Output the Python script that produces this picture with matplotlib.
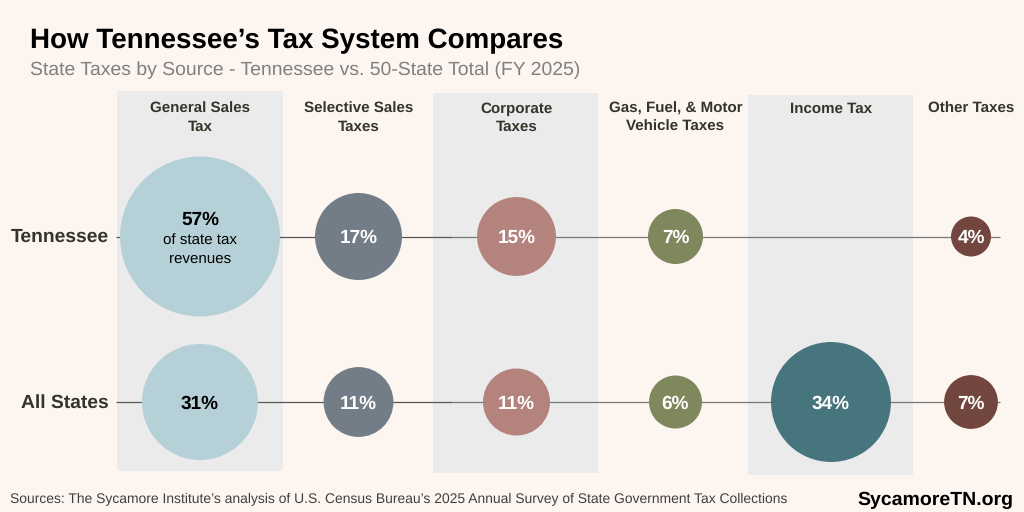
#!/usr/bin/env python3
import matplotlib
matplotlib.use("Agg")
import matplotlib.pyplot as plt
import numpy as np

categories = ["General Sales\nTax", "Selective Sales\nTaxes", "Corporate\nTaxes",
              "Gas, Fuel, & Motor\nVehicle Taxes", "Income Tax", "Other Taxes"]
row_names = ["Tennessee", "All States"]

# printed labels
tn_values = [57, 17, 15, 7, 0, 4]
all_values = [31, 11, 11, 6, 34, 7]
# bubble areas, they do not follow the rounded labels exactly
tn_areas = [59.2, 17.5, 14.4, 7.0, 0, 3.7]
all_areas = [31.1, 11.3, 10.4, 6.5, 33.3, 6.7]

colors = ["#B5D0D6", "#737D87", "#B5837E", "#7F875C", "#47757E", "#72463F"]
label_colors = ["black", "white", "white", "white", "white", "white"]

# layout, in pixels of the 1024x512 picture
col_x = [200, 358.5, 516.5, 675.5, 831, 971]
row_y = [236.5, 402]
bands = [(117, 283, 91, 471), (433, 598, 93, 473), (748, 913, 95, 475)]
size_per_pct = 224

plt.rcParams["font.family"] = ["Liberation Sans", "DejaVu Sans"]
plt.rcParams["text.hinting"] = "no_hinting"
BG = "#FDF5F0"
DARK = "#33352A"

fig = plt.figure(figsize=(10.24, 5.12), dpi=100, facecolor=BG)
ax = fig.add_axes([0, 0, 1, 1])
ax.set_xlim(0, 1024)
ax.set_ylim(512, 0)
ax.axis("off")

for x0, x1, y0, y1 in bands:
    ax.fill_between([x0, x1], y0, y1, color="#EBEBEB", lw=0, zorder=1)

for y in row_y:
    ax.plot([115.5, 452], [y, y], color="#555555", lw=0.9, zorder=2, solid_capstyle="butt")
    ax.plot([452, 1000], [y, y], color="#777777", lw=0.9, zorder=2, solid_capstyle="butt")

for y, areas in zip(row_y, [tn_areas, all_areas]):
    ax.scatter(col_x, [y] * len(col_x), s=np.array(areas) * size_per_pct, c=colors,
               linewidths=0, zorder=3)

for y, vals in zip(row_y, [tn_values, all_values]):
    for i, v in enumerate(vals):
        if v == 0 or (i == 0 and y == row_y[0]):
            continue
        ax.text(col_x[i], y + 6.5, "{}%".format(v), color=label_colors[i], fontsize=13.7,
                fontweight="bold", ha="center", va="baseline", zorder=4)

# big bubble has its note under the number
ax.text(col_x[0], 224.5, "{}%".format(tn_values[0]), color="black", fontsize=13.7,
        fontweight="bold", ha="center", va="baseline", zorder=4)
ax.text(col_x[0], 244.5, "of state tax", color="black", fontsize=10.9,
        ha="center", va="baseline", zorder=4)
ax.text(col_x[0], 263, "revenues", color="black", fontsize=10.9,
        ha="center", va="baseline", zorder=4)

for x, name in zip(col_x, categories):
    for n, line in enumerate(name.split("\n")):
        ax.text(x, 113 + n * 18, line, color=DARK, fontsize=10.9, fontweight="bold",
                ha="center", va="baseline", zorder=4)

for y, name in zip(row_y, row_names):
    ax.text(109, y + 5.5, name, color=DARK, fontsize=13.85, fontweight="bold", ha="right",
            va="baseline", zorder=4)

ax.text(30, 48, "How Tennessee\u2019s Tax System Compares", color="black", fontsize=20,
        fontweight="bold", ha="left", va="baseline")
ax.text(30, 75.5, "State Taxes by Source - Tennessee vs. 50-State Total (FY 2025)", color="#808080",
        fontsize=13.93, ha="left", va="baseline")
ax.text(10, 503, "Sources: The Sycamore Institute\u2019s analysis of U.S. Census Bureau\u2019s 2025 "
        "Annual Survey of State Government Tax Collections", color="#404040", fontsize=10.03,
        ha="left", va="baseline")
ax.text(1013, 504.5, "SycamoreTN.org", color="black", fontsize=14, fontweight="bold",
        ha="right", va="baseline")

fig.savefig("out.png", dpi=100, facecolor=BG)
